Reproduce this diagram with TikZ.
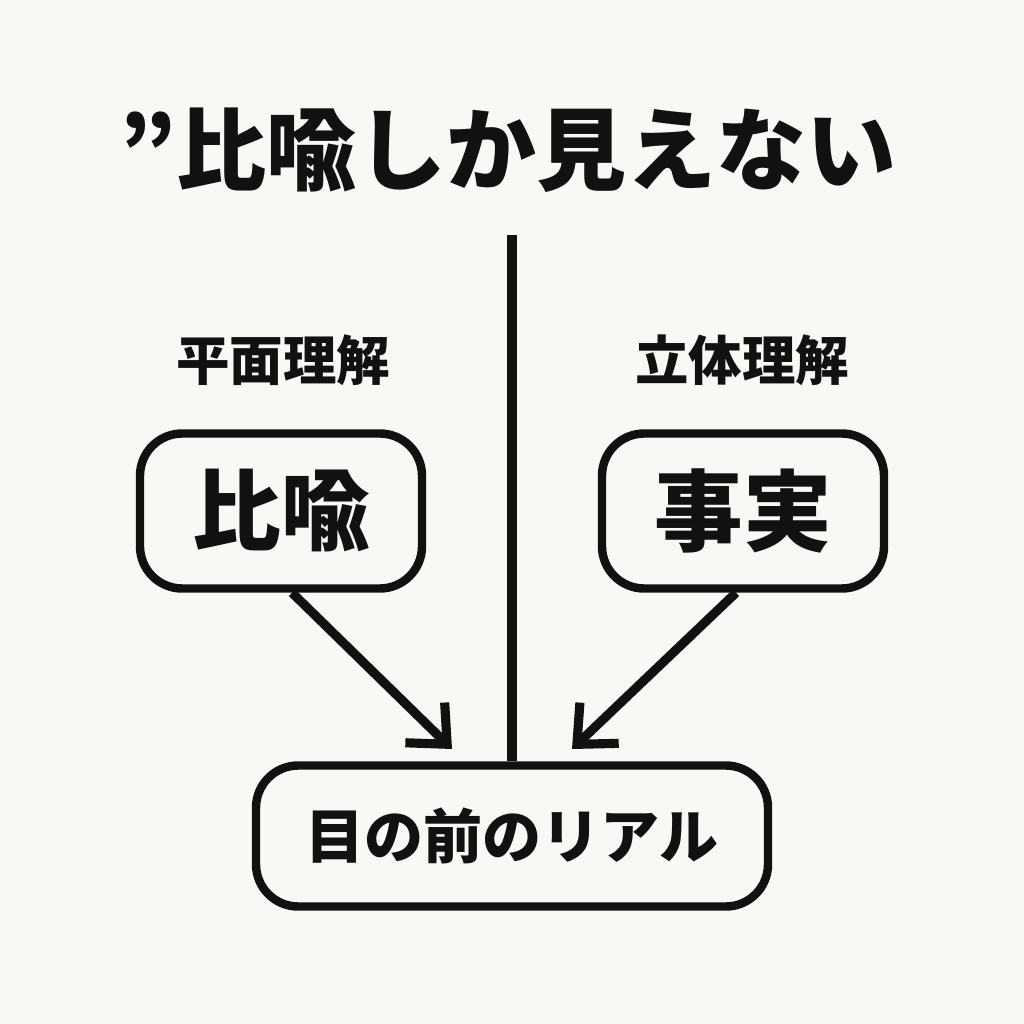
\documentclass[tikz,border=0pt]{standalone}
\usepackage{fontspec}
\setmainfont{Noto Sans CJK JP}[BoldFont={* Black}]
\usetikzlibrary{arrows.meta}
\definecolor{bg}{HTML}{F8F8F7}
\definecolor{ink}{HTML}{111111}
\begin{document}
\begin{tikzpicture}[x=0.025cm,y=-0.025cm,
  box/.style={draw=ink,line width=6pt,rounded corners=30,fill=bg,inner sep=0pt},
  conn/.style={draw=ink,line width=6.5pt},
  arr/.style={conn,-{Straight Barb[length=22pt,width=40pt,line width=6.5pt]}},
  lbl/.style={text=ink,font=\bfseries\fontsize{38}{38}\selectfont},
  big/.style={text=ink,font=\bfseries\fontsize{63}{63}\selectfont}]
\fill[bg] (0,0) rectangle (1024,1024);
\useasboundingbox (0,0) rectangle (1024,1024);
\node[text=ink,font=\bfseries\fontsize{64}{64}\selectfont] (title) at (508,150) {”比喩しか見えない};
\node[box,minimum width=282*0.025cm,minimum height=155*0.025cm] (hiyu) at (281,511) {};
\node[big] (hiyut) at (281,511) {比喩};
\node[box,minimum width=282*0.025cm,minimum height=155*0.025cm] (jijitsu) at (743,511) {};
\node[big] (jijitsut) at (743,511) {事実};
\node[box,minimum width=512*0.025cm,minimum height=141*0.025cm] (real) at (512,836) {};
\node[text=ink,font=\bfseries\fontsize{42}{42}\selectfont] (realt) at (512,836) {目の前のリアル};
\node[lbl] (heimen) at (283,360) {平面理解};
\node[lbl] (rittai) at (742,360) {立体理解};
\coordinate (vtop) at (512,235);
\draw[conn] (vtop) -- (real.north);
\coordinate (lt) at (452,749);
\coordinate (rt) at (572,749);
\draw[arr] (hiyu.south) ++(11,0) -- (lt);
\draw[arr] (jijitsu.south) ++(-7,0) -- (rt);
\end{tikzpicture}
\end{document}
